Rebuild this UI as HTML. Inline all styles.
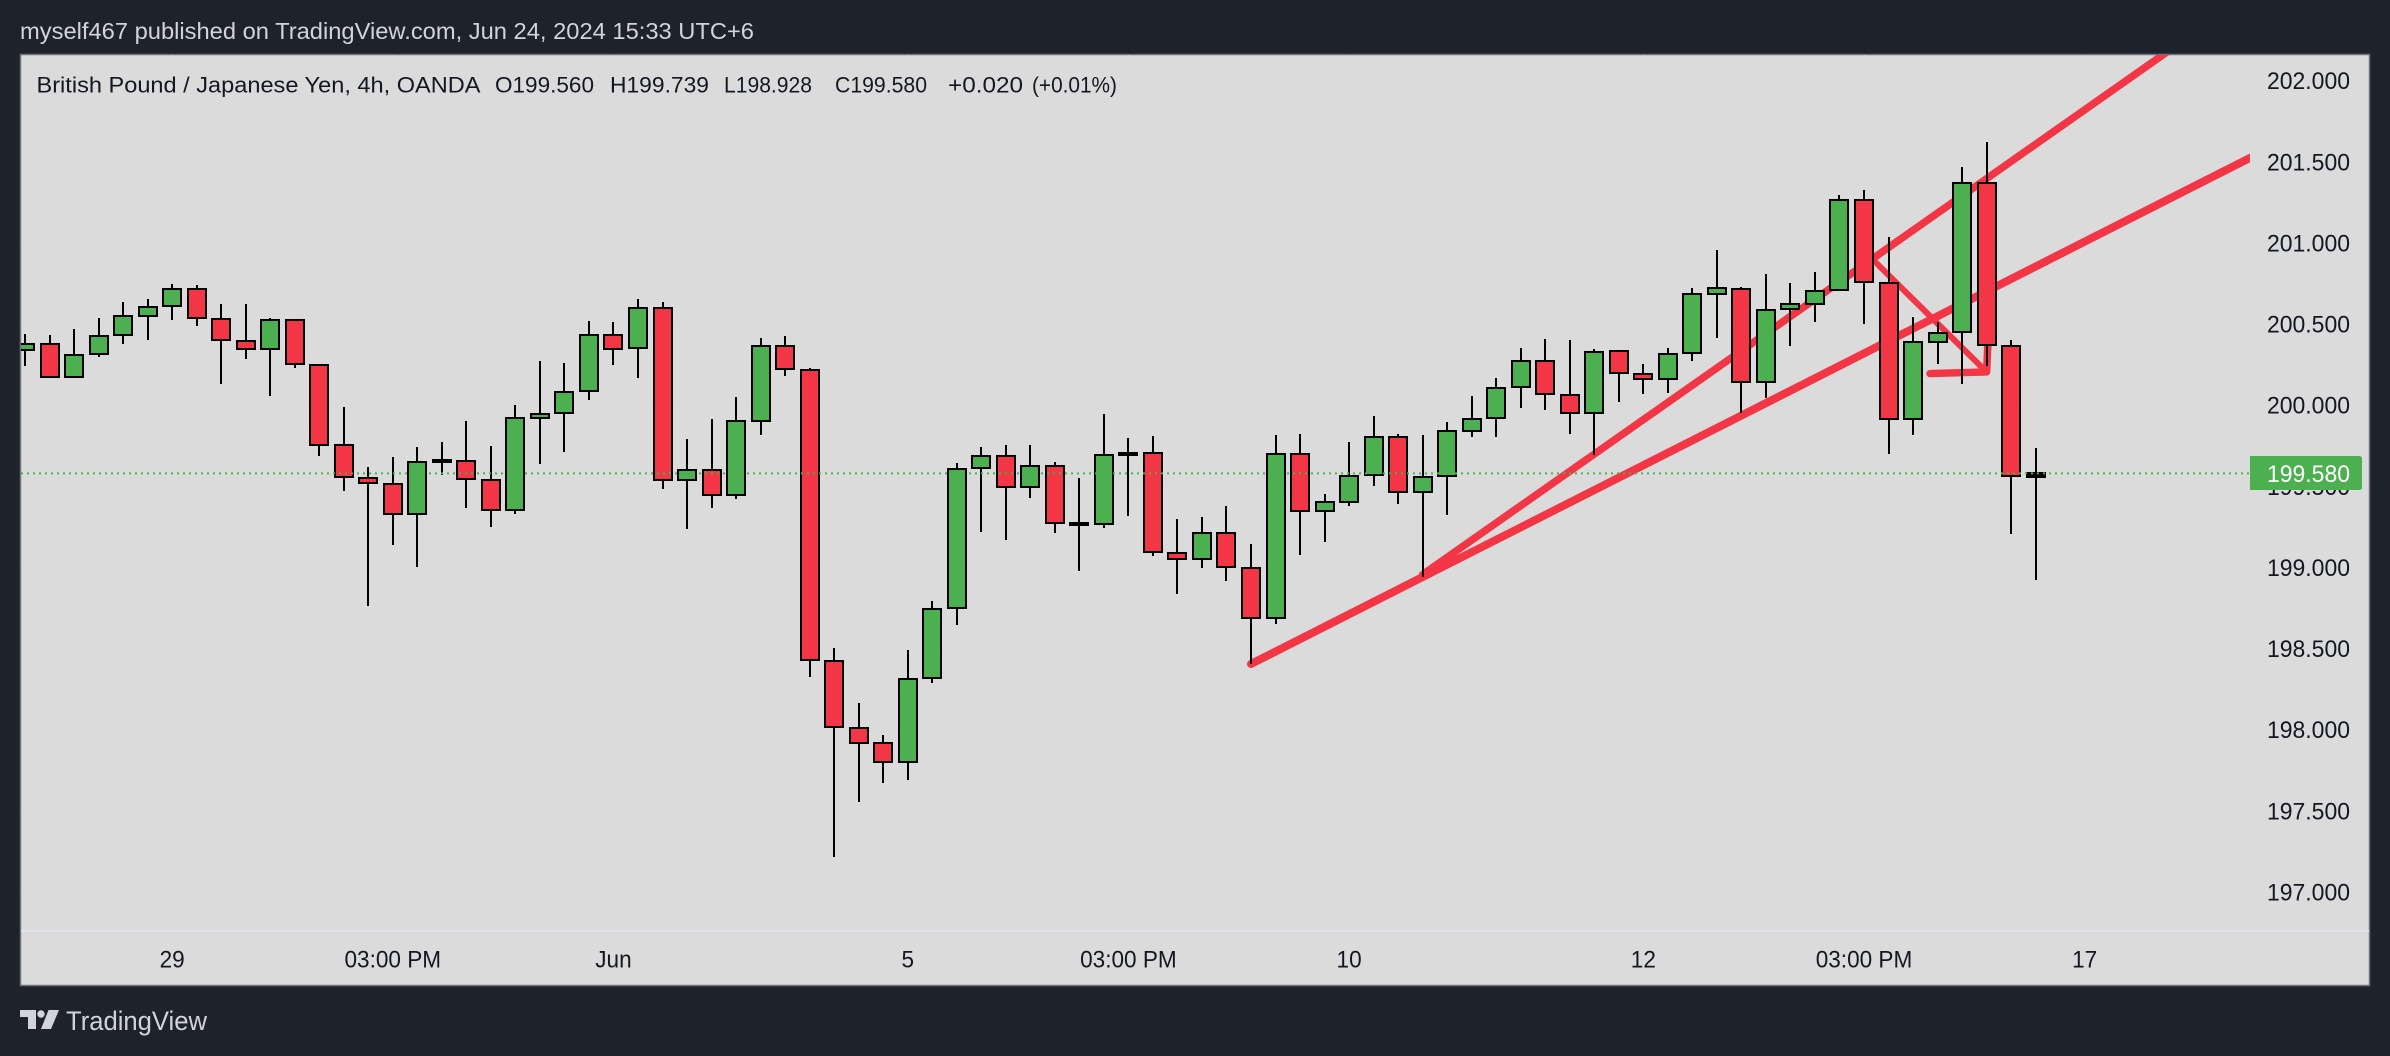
<!DOCTYPE html>
<html lang="en">
<head>
<meta charset="utf-8">
<title>GBPJPY 4h chart</title>
<style>
html,body{margin:0;padding:0;background:#1e222d;width:2390px;height:1056px;overflow:hidden}
svg{display:block;font-family:"Liberation Sans",Arial,sans-serif}
</style>
</head>
<body>
<svg id="chart" xmlns="http://www.w3.org/2000/svg" width="2390" height="1056" viewBox="0 0 2390 1056">
  <defs><clipPath id="pane-clip"><rect x="21" y="55" width="2229" height="876"/></clipPath></defs>
  <rect x="0" y="0" width="2390" height="1056" fill="#1e222d"/>
  <text x="20" y="39" font-size="23" fill="#d1d4dc" textLength="734" lengthAdjust="spacingAndGlyphs">myself467 published on TradingView.com, Jun 24, 2024 15:33 UTC+6</text>
  <rect x="20.5" y="54.5" width="2349" height="931" fill="#dbdbdb" stroke="#6f727a" stroke-width="1.5"/>
  <g id="grid"></g>
  <g id="drawings" clip-path="url(#pane-clip)"></g>
  <g id="candles" clip-path="url(#pane-clip)"></g>
  <line id="last-line" x1="21" x2="2250" stroke="#4caf50" stroke-width="2" stroke-dasharray="2 4"/>
  <line x1="21" x2="2369" y1="931" y2="931" stroke="#e0e3eb" stroke-width="2"/>
  <g font-size="22.5" fill="#131722">
    <text x="36.5" y="92.5" textLength="444" lengthAdjust="spacingAndGlyphs">British Pound / Japanese Yen, 4h, OANDA</text>
    <text x="495" y="92.5" textLength="99" lengthAdjust="spacingAndGlyphs">O199.560</text>
    <text x="610" y="92.5" textLength="99" lengthAdjust="spacingAndGlyphs">H199.739</text>
    <text x="724" y="92.5" textLength="88" lengthAdjust="spacingAndGlyphs">L198.928</text>
    <text x="835" y="92.5" textLength="92" lengthAdjust="spacingAndGlyphs">C199.580</text>
    <text x="948" y="92.5" textLength="75" lengthAdjust="spacingAndGlyphs">+0.020</text>
    <text x="1032" y="92.5" textLength="85" lengthAdjust="spacingAndGlyphs">(+0.01%)</text>
  </g>
  <g id="price-axis" font-size="24" fill="#131722" text-anchor="end"></g>
  <g id="time-axis" font-size="24" fill="#131722" text-anchor="middle"></g>
  <g>
    <path id="last-tag" fill="#4caf50" d=""/>
    <text id="last-text" x="2350" font-size="24" fill="#ffffff" text-anchor="end"></text>
  </g>
  <g>
    <polygon fill="#d1d4dc" points="20,1010 36,1010 36,1029 28,1029 28,1017 20,1017"/>
    <circle fill="#d1d4dc" cx="41" cy="1014" r="3.7"/>
    <polygon fill="#d1d4dc" points="48.5,1010 59,1010 51,1029 41,1029"/>
    <text x="66" y="1030" font-size="27" fill="#d1d4dc" textLength="141" lengthAdjust="spacingAndGlyphs">TradingView</text>
  </g>
</svg>
<script>
const opens = [200.339,200.378,200.172,200.314,200.430,200.551,200.610,200.718,200.532,200.397,200.345,200.526,200.249,199.755,199.553,199.516,199.332,199.660,199.657,199.541,199.353,199.924,199.949,200.085,200.435,200.351,200.601,199.539,199.601,199.447,199.905,200.366,200.219,198.425,198.013,197.919,197.798,198.317,198.748,199.611,199.684,199.494,199.627,199.271,199.265,199.694,199.707,199.092,199.052,199.215,198.998,198.686,199.700,199.346,199.406,199.569,199.806,199.463,199.561,199.840,199.921,200.111,200.275,200.065,199.950,200.331,200.195,200.160,200.320,200.688,200.719,200.142,200.591,200.626,200.708,201.267,200.754,199.915,200.391,200.450,201.370,200.364,199.560];
const highs = [200.439,200.430,200.470,200.537,200.637,200.653,200.747,200.741,200.624,200.624,200.535,200.526,200.249,199.989,199.618,199.680,199.743,199.772,199.901,199.749,200.001,200.272,200.260,200.518,200.512,200.653,200.637,199.791,199.914,200.049,200.414,200.426,200.227,198.504,198.165,197.965,198.492,198.794,199.644,199.740,199.755,199.755,199.650,199.550,199.946,199.798,199.811,199.298,199.311,199.379,199.144,199.817,199.823,199.452,199.773,199.934,199.821,199.817,199.896,200.056,200.167,200.352,200.409,200.402,200.346,200.338,200.254,200.353,200.723,200.957,200.728,200.807,200.754,200.820,201.295,201.326,201.036,200.543,200.512,201.467,201.621,200.402,199.739];
const lows = [200.243,200.164,200.172,200.297,200.376,200.401,200.524,200.489,200.130,200.285,200.055,200.228,199.687,199.472,198.762,199.140,199.005,199.570,199.362,199.251,199.330,199.639,199.714,200.032,200.249,200.164,199.485,199.235,199.368,199.418,199.818,200.180,198.321,197.218,197.557,197.671,197.690,198.290,198.648,199.219,199.169,199.427,199.213,198.977,199.244,199.317,199.071,198.836,198.996,198.917,198.405,198.654,199.077,199.156,199.379,199.502,199.392,198.944,199.323,199.805,199.805,199.984,199.971,199.823,199.690,200.019,200.069,200.076,200.272,200.415,199.953,200.045,200.364,200.512,200.708,200.501,199.700,199.816,200.254,200.131,200.243,199.209,198.928];
const closes = [200.378,200.172,200.312,200.428,200.551,200.607,200.718,200.535,200.399,200.345,200.526,200.251,199.757,199.555,199.518,199.332,199.651,199.664,199.543,199.353,199.922,199.947,200.082,200.435,200.349,200.601,199.539,199.601,199.447,199.903,200.366,200.222,198.430,198.015,197.921,197.800,198.315,198.744,199.609,199.684,199.494,199.627,199.273,199.277,199.690,199.705,199.094,199.050,199.215,199.000,198.686,199.700,199.346,199.404,199.565,199.806,199.463,199.559,199.838,199.917,200.109,200.275,200.067,199.950,200.329,200.197,200.160,200.318,200.688,200.721,200.142,200.589,200.626,200.703,201.267,200.758,199.915,200.391,200.446,201.370,200.369,199.561,199.580];
const priceTicks = [202,201.5,201,200.5,200,199.5,199,198.5,198,197.5,197];
const timeTickBars = [6,15,24,36,45,54,66,75,84];
const timeTickLabels = ["29","03:00 PM","Jun","5","03:00 PM","10","12","03:00 PM","17"];
const lastPrice = 199.580;
const trendUpperBars = [57,88];
const trendUpperPrices = [198.956,202.245];
const trendLowerBars = [50,90.74];
const trendLowerPrices = [198.405,201.524];
const arrowBars = [75.45,80];
const arrowPrices = [200.884,200.205];
const arrowHeadBars = [77.69,80,80.05];
const arrowHeadPrices = [200.195,200.205,200.370];

const NS = 'http://www.w3.org/2000/svg';
const xOf = function (bar) { return 25 + bar * 24.52; };
const yOf = function (price) { return 405.2 + (200 - price) * 162.25; };
const make = function (tag, parent) {
  const el = document.createElementNS(NS, tag);
  parent.appendChild(el);
  return el;
};

const gridGroup = document.getElementById('grid');
priceTicks.forEach(function (p) {
  const line = make('line', gridGroup);
  
  
  line.setAttribute('x1', 21); line.setAttribute('x2', 2250);
  line.setAttribute('y1', Math.round(yOf(p)) + 0.5); line.setAttribute('y2', Math.round(yOf(p)) + 0.5);
  line.setAttribute('stroke', '#d9d9d9');
});
timeTickBars.forEach(function (b) {
  const line = make('line', gridGroup);
  
  
  line.setAttribute('x1', Math.round(xOf(b)) + 0.5); line.setAttribute('x2', Math.round(xOf(b)) + 0.5);
  line.setAttribute('y1', 55); line.setAttribute('y2', 931);
  line.setAttribute('stroke', '#d9d9d9');
});

const drawingGroup = document.getElementById('drawings');
const drawPolyline = function (bars, prices, width, name) {
  const pl = make('polyline', drawingGroup);
  
  
  pl.setAttribute('points', bars.map(function (b, i) { return xOf(b) + ',' + yOf(prices[i]); }).join(' '));
  pl.setAttribute('fill', 'none');
  pl.setAttribute('stroke', '#f23645');
  pl.setAttribute('stroke-width', width);
  pl.setAttribute('stroke-linecap', 'round');
  pl.setAttribute('stroke-linejoin', 'round');
};
drawPolyline(trendLowerBars, trendLowerPrices, 8, 'trend-line-lower');
drawPolyline(trendUpperBars, trendUpperPrices, 7.5, 'trend-line-upper');
drawPolyline(arrowBars, arrowPrices, 6, 'arrow-shaft');
drawPolyline(arrowHeadBars, arrowHeadPrices, 7.5, 'arrow-head');

const candleGroup = document.getElementById('candles');
closes.forEach(function (c, i) {
  const o = opens[i];
  const up = c >= o;
  const cx = Math.round(xOf(i));
  const g = make('g', candleGroup);
  
  
  const wick = make('rect', g);
  
  
  wick.setAttribute('x', cx - 1);
  wick.setAttribute('width', 2);
  wick.setAttribute('y', Math.round(yOf(highs[i])));
  wick.setAttribute('height', Math.max(1, Math.round(yOf(lows[i]) - yOf(highs[i]))));
  wick.setAttribute('fill', '#000000');
  const top = Math.round(yOf(Math.max(o, c)));
  const bot = Math.round(yOf(Math.min(o, c)));
  const border = make('rect', g);
  
  
  border.setAttribute('x', cx - 10);
  border.setAttribute('width', 20);
  border.setAttribute('y', top - 1);
  border.setAttribute('height', Math.max(4, bot - top + 2));
  border.setAttribute('fill', '#000000');
  if (Math.abs(yOf(o) - yOf(c)) > 3.4) {
    const body = make('rect', g);
    
    
    body.setAttribute('x', cx - 8);
    body.setAttribute('width', 16);
    body.setAttribute('y', top + 1);
    body.setAttribute('height', bot - top - 2);
    body.setAttribute('fill', up ? '#4caf50' : '#f23645');
  }
});

const lastY = yOf(lastPrice);
const lastLine = document.getElementById('last-line');
lastLine.setAttribute('y1', lastY);
lastLine.setAttribute('y2', lastY);

const priceAxis = document.getElementById('price-axis');
priceTicks.forEach(function (p) {
  const t = make('text', priceAxis);
  
  
  t.setAttribute('x', 2350);
  t.setAttribute('y', yOf(p) + 8.5);
  t.setAttribute('textLength', 83);
  t.setAttribute('lengthAdjust', 'spacingAndGlyphs');
  t.textContent = p.toFixed(3);
});

const timeAxis = document.getElementById('time-axis');
timeTickBars.forEach(function (b, i) {
  const t = make('text', timeAxis);
  
  
  t.setAttribute('x', xOf(b));
  t.setAttribute('y', 967.5);
  t.textContent = timeTickLabels[i];
  t.setAttribute('textLength', t.getComputedTextLength() * 0.94);
  t.setAttribute('lengthAdjust', 'spacingAndGlyphs');
});

const tagTop = Math.round(lastY) - 17;
document.getElementById('last-tag').setAttribute('d',
  'M2250 ' + tagTop + ' H2359 Q2362 ' + tagTop + ' 2362 ' + (tagTop + 3) +
  ' V' + (tagTop + 31) + ' Q2362 ' + (tagTop + 34) + ' 2359 ' + (tagTop + 34) + ' H2250 Z');
const lastText = document.getElementById('last-text');
lastText.setAttribute('y', lastY + 8.5);
lastText.setAttribute('textLength', 83);
lastText.setAttribute('lengthAdjust', 'spacingAndGlyphs');
lastText.textContent = lastPrice.toFixed(3);
</script>
</body>
</html>
